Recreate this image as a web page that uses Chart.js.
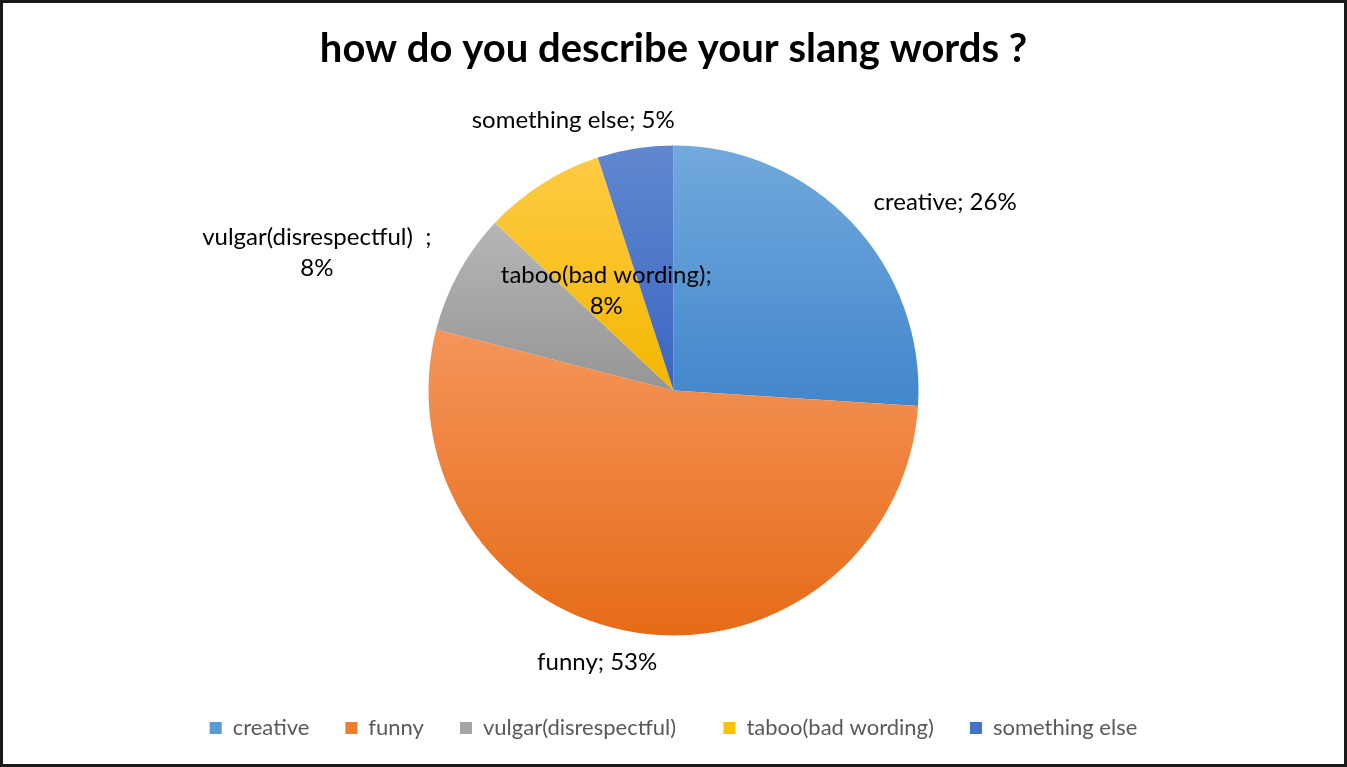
<!DOCTYPE html>
<html>
<head>
<meta charset="utf-8">
<title>how do you describe your slang words ?</title>
<script src="https://cdn.jsdelivr.net/npm/chart.js@4/dist/chart.umd.min.js"></script>
<style>
  html, body { margin: 0; padding: 0; background: #fff; overflow: hidden; }
  #wrap { position: relative; width: 1347px; height: 767px; }
</style>
</head>
<body>
<div id="wrap"><canvas id="slang-pie"></canvas></div>
<script>
(function () {
  "use strict";

  var categories = [
    "creative",
    "funny",
    "vulgar(disrespectful)  ",
    "taboo(bad wording)",
    "something else"
  ];
  var shares = [26, 53, 8, 8, 5];

  // top / bottom stops of each slice's vertical gradient
  var topColors = ["#72a9dd", "#f5955a", "#b6b6b6", "#ffcb45", "#6187cf"];
  var bottomColors = ["#4286cc", "#e56b17", "#959595", "#f2b700", "#3a66c2"];
  var legendColors = ["#5b9bd5", "#ed7d31", "#a5a5a5", "#ffc000", "#4472c4"];

  // label anchor offset from the middle of each slice's outer edge
  var labelOffsets = [[93, -21], [-38, 30], [-142, -20], [64, 107], [-62, -28]];
  var labelWrap = [false, false, true, true, false];

  var FONT = "Lato, 'Open Sans', sans-serif";

  function sliceYRange(arc) {
    var ys = [arc.y];
    var a0 = arc.startAngle, a1 = arc.endAngle;
    ys.push(arc.y + arc.outerRadius * Math.sin(a0));
    ys.push(arc.y + arc.outerRadius * Math.sin(a1));
    var marks = [-Math.PI / 2, Math.PI / 2, 1.5 * Math.PI, 2.5 * Math.PI];
    for (var i = 0; i < marks.length; i++) {
      if (marks[i] > a0 && marks[i] < a1) {
        ys.push(arc.y + arc.outerRadius * Math.sin(marks[i]));
      }
    }
    return [Math.min.apply(null, ys), Math.max.apply(null, ys)];
  }

  var sliceGradients = {
    id: "sliceGradients",
    beforeDatasetsDraw: function (chart) {
      var ctx = chart.ctx;
      var meta = chart.getDatasetMeta(0);
      meta.data.forEach(function (arc, i) {
        var r = sliceYRange(arc);
        var g = ctx.createLinearGradient(0, r[0], 0, r[1]);
        g.addColorStop(0, topColors[i]);
        g.addColorStop(1, bottomColors[i]);
        arc.options.backgroundColor = g;
      });
    }
  };

  var sliceLabels = {
    id: "sliceLabels",
    afterDatasetsDraw: function (chart) {
      var ctx = chart.ctx;
      var meta = chart.getDatasetMeta(0);
      ctx.save();
      ctx.font = "24px " + FONT;
      ctx.fillStyle = "#000";
      ctx.textAlign = "center";
      ctx.textBaseline = "middle";
      meta.data.forEach(function (arc, i) {
        var mid = (arc.startAngle + arc.endAngle) / 2;
        var x = arc.x + arc.outerRadius * Math.cos(mid) + labelOffsets[i][0];
        var y = arc.y + arc.outerRadius * Math.sin(mid) + labelOffsets[i][1];
        var pct = shares[i] + "%";
        if (labelWrap[i]) {
          ctx.fillText(categories[i] + ";", x, y - 15.5);
          ctx.fillText(pct, x, y + 15.5);
        } else {
          ctx.fillText(categories[i] + "; " + pct, x, y);
        }
      });
      ctx.restore();
    }
  };

  var frame = {
    id: "frame",
    beforeDraw: function (chart) {
      var ctx = chart.ctx;
      ctx.save();
      ctx.fillStyle = "#fff";
      ctx.fillRect(0, 0, chart.width, chart.height);
      ctx.restore();
    },
    afterDraw: function (chart) {
      var ctx = chart.ctx;
      ctx.save();
      ctx.strokeStyle = "#1a1a1a";
      ctx.lineWidth = 3;
      ctx.strokeRect(1.5, 1.5, chart.width - 3, chart.height - 3);
      ctx.restore();
    }
  };

  new Chart(document.getElementById("slang-pie"), {
    type: "pie",
    data: {
      labels: categories,
      datasets: [{
        data: shares,
        backgroundColor: legendColors,
        borderWidth: 0
      }]
    },
    options: {
      responsive: true,
      maintainAspectRatio: false,
      animation: false,
      radius: 245,
      layout: { padding: { top: 0, bottom: 18, left: 0, right: 0 } },
      plugins: {
        tooltip: { enabled: false },
        title: {
          display: true,
          text: "how do you describe your slang words ?",
          color: "#000",
          font: { family: FONT, size: 40, weight: "bold", lineHeight: 1.2 },
          padding: { top: 25, bottom: 27 }
        },
        legend: {
          position: "bottom",
          labels: {
            color: "#595959",
            font: { family: FONT, size: 22 },
            boxWidth: 12,
            boxHeight: 12,
            padding: 36
          }
        }
      }
    },
    plugins: [frame, sliceGradients, sliceLabels]
  });
})();
</script>
</body>
</html>
